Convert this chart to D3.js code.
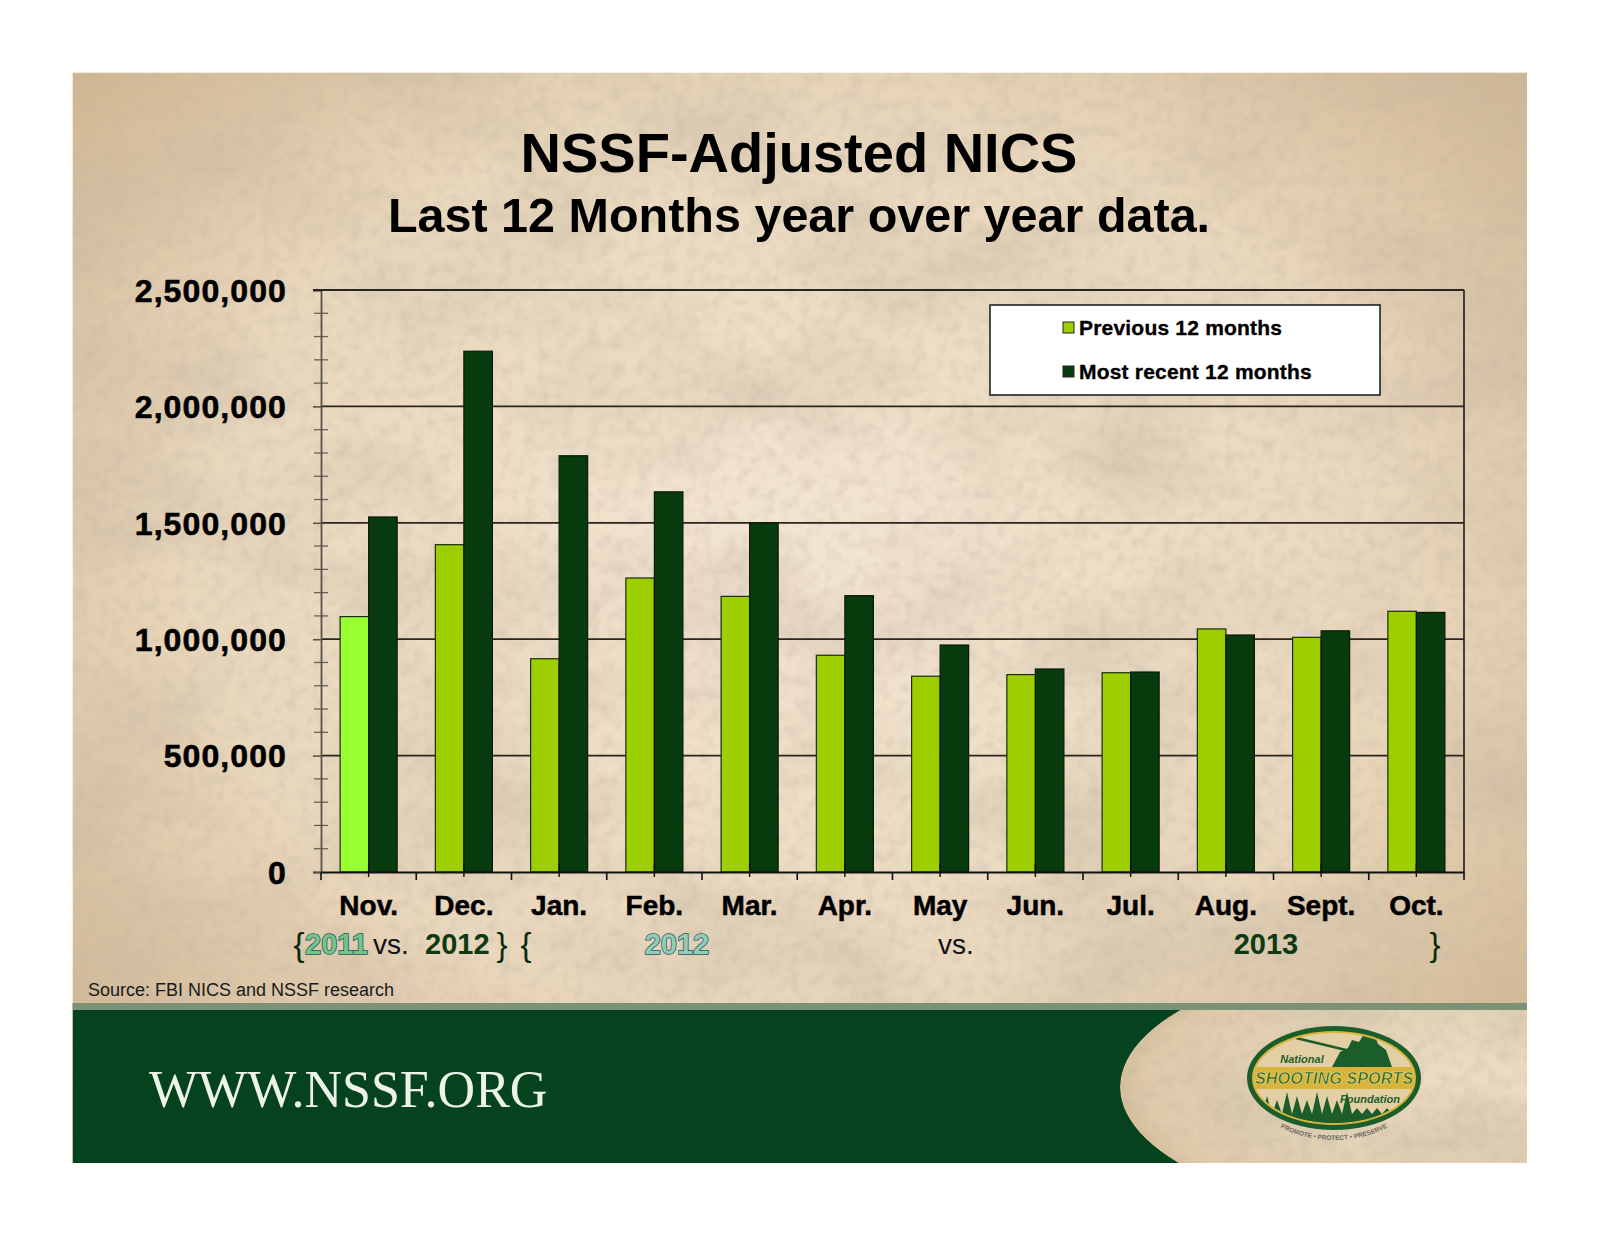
<!DOCTYPE html>
<html>
<head>
<meta charset="utf-8">
<script src="https://cdn.jsdelivr.net/npm/d3@7"></script>
<style>
  html, body { margin: 0; padding: 0; background: #ffffff; }
  svg { display: block; }
</style>
</head>
<body>
<script>
// ---------- DATA ----------
const months = ["Nov.", "Dec.", "Jan.", "Feb.", "Mar.", "Apr.", "May", "Jun.", "Jul.", "Aug.", "Sept.", "Oct."];
const previous12 = [1097000, 1406000, 916000, 1263000, 1184000, 931000, 841000, 848000, 856000, 1044000, 1008000, 1120000];
const recent12   = [1525000, 2237000, 1788000, 1633000, 1500000, 1187000, 975000, 872000, 859000, 1018000, 1036000, 1115000];
const seriesNames = ["Previous 12 months", "Most recent 12 months"];
const yTicks = [0, 500000, 1000000, 1500000, 2000000, 2500000];
const titleText = "NSSF-Adjusted NICS";
const subtitleText = "Last 12 Months year over year data.";
const sourceText = "Source: FBI NICS and NSSF research";
const footerText = "WWW.NSSF.ORG";

// ---------- SETUP ----------
const W = 1600, H = 1236;
const svg = d3.select("body").append("svg").attr("width", W).attr("height", H);
const defs = svg.append("defs");

// parchment gradient + texture
const rg = defs.append("radialGradient").attr("id", "paperGrad")
  .attr("cx", "50%").attr("cy", "45%").attr("r", "70%");
rg.append("stop").attr("offset", "0%").attr("stop-color", "#f3e6d2");
rg.append("stop").attr("offset", "60%").attr("stop-color", "#e9d7bc");
rg.append("stop").attr("offset", "100%").attr("stop-color", "#cdb28c");

const f = defs.append("filter").attr("id", "paper")
  .attr("x", 0).attr("y", 0).attr("width", "100%").attr("height", "100%");
f.append("feTurbulence").attr("type", "fractalNoise").attr("baseFrequency", "0.005 0.009")
  .attr("numOctaves", 5).attr("seed", 7).attr("result", "n1");
f.append("feColorMatrix").attr("in", "n1").attr("type", "matrix")
  .attr("values", "0 0 0 0 0.58  0 0 0 0 0.48  0 0 0 0 0.36  1.2 0 0 0 -0.5")
  .attr("result", "t1");
f.append("feTurbulence").attr("type", "fractalNoise").attr("baseFrequency", "0.08")
  .attr("numOctaves", 2).attr("seed", 2).attr("result", "n2");
f.append("feColorMatrix").attr("in", "n2").attr("type", "matrix")
  .attr("values", "0 0 0 0 0.55  0 0 0 0 0.46  0 0 0 0 0.36  0.8 0 0 0 -0.33")
  .attr("result", "t2");
f.append("feComposite").attr("in", "t1").attr("in2", "SourceGraphic").attr("operator", "over").attr("result", "c1");
f.append("feComposite").attr("in", "t2").attr("in2", "c1").attr("operator", "over").attr("result", "c2");
f.append("feComposite").attr("in", "c2").attr("in2", "SourceGraphic").attr("operator", "in");

const PX0 = 72.5, PY0 = 72.5, PX1 = 1527, PY1 = 1163;
svg.append("rect").attr("x", PX0).attr("y", PY0).attr("width", PX1 - PX0).attr("height", PY1 - PY0)
  .attr("fill", "url(#paperGrad)").attr("filter", "url(#paper)");

// ---------- TITLES ----------
svg.append("text").attr("x", 799).attr("y", 172).attr("text-anchor", "middle")
  .attr("font-family", "Liberation Sans, Arial, sans-serif").attr("font-weight", "bold")
  .attr("font-size", 56).attr("fill", "#000").text(titleText);
svg.append("text").attr("x", 799).attr("y", 232).attr("text-anchor", "middle")
  .attr("font-family", "Liberation Sans, Arial, sans-serif").attr("font-weight", "bold")
  .attr("font-size", 48.5).attr("fill", "#000").text(subtitleText);

// ---------- SCALES ----------
const L = 321, R = 1464, T = 290, B = 872;
const x0 = d3.scaleBand().domain(months).range([L, R]).paddingInner(0).paddingOuter(0);
const x1 = d3.scaleBand().domain(["prev", "recent"]).range([0, x0.bandwidth()]).paddingInner(0).paddingOuter(0.67);
const y = d3.scaleLinear().domain([0, 2500000]).range([B, T]);

// gridlines
const g = svg.append("g");
g.selectAll("line.grid").data(yTicks.filter(d => d > 0)).join("line")
  .attr("x1", L).attr("x2", R).attr("y1", d => y(d)).attr("y2", d => y(d))
  .attr("stroke", "#2a2520").attr("stroke-width", 1.7);
// right border
g.append("line").attr("x1", R).attr("x2", R).attr("y1", T).attr("y2", B)
  .attr("stroke", "#2a2520").attr("stroke-width", 1.7);

// minor y ticks (crossing)
g.selectAll("line.minor").data(d3.range(0, 2500001, 100000).filter(d => d % 500000 !== 0)).join("line")
  .attr("x1", L - 7).attr("x2", L + 7).attr("y1", d => y(d)).attr("y2", d => y(d))
  .attr("stroke", "#6a625a").attr("stroke-width", 1.3);

// bars
const colorPrev = "#9dcf00", colorPrevFirst = "#99ff33", colorRecent = "#073a0c";
const groups = g.selectAll("g.grp").data(months).join("g")
  .attr("transform", d => `translate(${x0(d)},0)`);
groups.append("rect")
  .attr("x", x1("prev")).attr("width", x1.bandwidth())
  .attr("y", (d, i) => y(previous12[i])).attr("height", (d, i) => B - y(previous12[i]))
  .attr("fill", (d, i) => i === 0 ? colorPrevFirst : colorPrev)
  .attr("stroke", "#1c2a10").attr("stroke-width", 1.2);
groups.append("rect")
  .attr("x", x1("recent")).attr("width", x1.bandwidth())
  .attr("y", (d, i) => y(recent12[i])).attr("height", (d, i) => B - y(recent12[i]))
  .attr("fill", colorRecent)
  .attr("stroke", "#0a1a08").attr("stroke-width", 1.2);

// y axis
const yAxis = svg.append("g").attr("transform", `translate(${L},0)`)
  .call(d3.axisLeft(y).tickValues(yTicks).tickFormat(d3.format(",")).tickSize(8).tickPadding(26));
yAxis.select(".domain").attr("stroke", "#5a524a").attr("stroke-width", 1.8);
yAxis.selectAll(".tick line").attr("stroke", "#5a524a").attr("stroke-width", 1.6);
yAxis.selectAll(".tick text")
  .attr("font-family", "Liberation Sans, Arial, sans-serif").attr("font-weight", "bold")
  .attr("font-size", 32).attr("letter-spacing", 1.1).attr("fill", "#000")
  .attr("stroke", "#000").attr("stroke-width", 0.6).attr("dy", "0.35em");

// top border on top of axis
svg.append("line").attr("x1", L - 8).attr("x2", R).attr("y1", T).attr("y2", T)
  .attr("stroke", "#2a2520").attr("stroke-width", 1.8);

// x axis
const xAxis = svg.append("g").attr("transform", `translate(0,${B})`)
  .call(d3.axisBottom(x0).tickSize(0).tickPadding(0).tickFormat(""));
xAxis.select(".domain").attr("stroke", "#111").attr("stroke-width", 2.2);
// boundary ticks (downward)
xAxis.selectAll("line.bnd").data(d3.range(0, months.length + 1)).join("line")
  .attr("x1", i => L + i * x0.step()).attr("x2", i => L + i * x0.step())
  .attr("y1", 0).attr("y2", 8).attr("stroke", "#111").attr("stroke-width", 1.6);
// center ticks (crossing)
xAxis.selectAll("line.ctr").data(months).join("line")
  .attr("x1", d => x0(d) + x0.bandwidth() / 2).attr("x2", d => x0(d) + x0.bandwidth() / 2)
  .attr("y1", -8).attr("y2", 5).attr("stroke", "#111").attr("stroke-width", 1.4);
// month labels
svg.selectAll("text.month").data(months).join("text")
  .attr("x", d => x0(d) + x0.bandwidth() / 2).attr("y", 915)
  .attr("text-anchor", "middle")
  .attr("font-family", "Liberation Sans, Arial, sans-serif").attr("font-weight", "bold")
  .attr("font-size", 28).attr("fill", "#000").attr("stroke", "#000").attr("stroke-width", 0.5)
  .text(d => d);

// ---------- YEAR ROW ----------
const yr = svg.append("g").attr("font-family", "Liberation Sans, Arial, sans-serif");
const yBase = 954;
function brace(xp, ch) {
  yr.append("text").attr("x", xp).attr("y", yBase + 2).attr("font-size", 33).attr("font-weight", "normal")
    .attr("fill", "#0a2a0a").attr("text-anchor", "middle").text(ch);
}
function yearText(xp, t, fill, outline, anchor) {
  const el = yr.append("text").attr("x", xp).attr("y", yBase).attr("font-size", 29).attr("font-weight", "bold")
    .attr("fill", fill).attr("text-anchor", anchor || "start").text(t);
  if (outline) el.attr("stroke", outline).attr("stroke-width", 1.4).attr("paint-order", "stroke");
  return el;
}
brace(299, "{");
yearText(305, "2011", "#74c48a", "#1d4f5c");
yr.append("text").attr("x", 373).attr("y", yBase).attr("font-size", 28).attr("fill", "#111").text("vs.");
yearText(425, "2012", "#0d3a12", null);
brace(502, "}");
brace(526, "{");
yearText(677, "2012", "#92ccb6", "#1d4f5c", "middle");
yr.append("text").attr("x", 956).attr("y", yBase).attr("font-size", 28).attr("fill", "#111")
  .attr("text-anchor", "middle").text("vs.");
yearText(1266, "2013", "#0d3a12", null, "middle");
brace(1435, "}");

// ---------- LEGEND ----------
const lg = svg.append("g");
lg.append("rect").attr("x", 990).attr("y", 305).attr("width", 390).attr("height", 90)
  .attr("fill", "#ffffff").attr("stroke", "#222").attr("stroke-width", 1.6);
const legItems = [
  { name: seriesNames[0], color: colorPrev, cy: 328 },
  { name: seriesNames[1], color: colorRecent, cy: 372 }
];
legItems.forEach(it => {
  lg.append("rect").attr("x", 1063).attr("y", it.cy - 6).attr("width", 11).attr("height", 11)
    .attr("fill", it.color).attr("stroke", "#222").attr("stroke-width", 1);
  lg.append("text").attr("x", 1079).attr("y", it.cy + 7)
    .attr("font-family", "Liberation Sans, Arial, sans-serif").attr("font-weight", "bold")
    .attr("font-size", 21).attr("fill", "#000").attr("stroke", "#000").attr("stroke-width", 0.35)
    .attr("letter-spacing", 0.2).text(it.name);
});

// ---------- SOURCE ----------
svg.append("text").attr("x", 88).attr("y", 996)
  .attr("font-family", "Liberation Sans, Arial, sans-serif").attr("font-size", 18)
  .attr("fill", "#1a1a1a").text(sourceText);

// ---------- FOOTER ----------
const FY0 = 1010;
svg.append("rect").attr("x", PX0).attr("y", 1003).attr("width", PX1 - PX0).attr("height", 7)
  .attr("fill", "#7c9276");
defs.append("clipPath").attr("id", "footClip").append("rect")
  .attr("x", PX0).attr("y", FY0).attr("width", PX1 - PX0).attr("height", PY1 - FY0);
const foot = svg.append("g").attr("clip-path", "url(#footClip)");
foot.append("rect").attr("x", PX0).attr("y", FY0).attr("width", PX1 - PX0).attr("height", PY1 - FY0)
  .attr("fill", "#05431f");
const eg = defs.append("radialGradient").attr("id", "ellGrad").attr("cx", "55%").attr("cy", "50%").attr("r", "60%");
eg.append("stop").attr("offset", "0%").attr("stop-color", "#ecdec6");
eg.append("stop").attr("offset", "85%").attr("stop-color", "#dfcbab");
eg.append("stop").attr("offset", "100%").attr("stop-color", "#c8ae88");
foot.append("ellipse").attr("cx", 1462).attr("cy", 1087).attr("rx", 342).attr("ry", 136)
  .attr("fill", "url(#ellGrad)").attr("filter", "url(#paper)");

svg.append("text").attr("x", 149).attr("y", 1107)
  .attr("font-family", "Liberation Serif, DejaVu Serif, serif").attr("font-size", 52)
  .attr("fill", "#eef3ea").attr("letter-spacing", 0).text(footerText);

// ---------- LOGO ----------
const LX = 1334, LY = 1078, LRX = 87, LRY = 52;
const logo = svg.append("g");
const green = "#1b5e2b", gold = "#d9b43a";
defs.append("clipPath").attr("id", "logoClip").append("ellipse")
  .attr("cx", LX).attr("cy", LY).attr("rx", LRX - 7).attr("ry", LRY - 7);
logo.append("ellipse").attr("cx", LX).attr("cy", LY).attr("rx", LRX).attr("ry", LRY).attr("fill", green);
logo.append("ellipse").attr("cx", LX).attr("cy", LY).attr("rx", LRX - 5).attr("ry", LRY - 5).attr("fill", gold);
const inner = logo.append("g").attr("clip-path", "url(#logoClip)");
inner.append("rect").attr("x", LX - LRX).attr("y", LY - LRY).attr("width", 2 * LRX).attr("height", 2 * LRY).attr("fill", "#e2cfa4");
// hunters silhouette
inner.append("path").attr("fill", green)
  .attr("d", `M${LX - 2},${LY - 11} L${LX + 6},${LY - 26} L${LX + 14},${LY - 30} L${LX + 18},${LY - 38} L${LX + 25},${LY - 36} L${LX + 30},${LY - 44} L${LX + 40},${LY - 44} L${LX + 44},${LY - 34} L${LX + 52},${LY - 28} L${LX + 58},${LY - 11} Z`);
inner.append("line").attr("x1", LX - 38).attr("y1", LY - 40).attr("x2", LX + 12).attr("y2", LY - 28)
  .attr("stroke", green).attr("stroke-width", 2.5);
// band
inner.append("rect").attr("x", LX - LRX).attr("y", LY - 11).attr("width", 2 * LRX).attr("height", 22).attr("fill", gold);
// trees
const treeXs = d3.range(LX - 82, LX + 82, 10);
inner.append("path").attr("fill", green)
  .attr("d", "M" + (LX - LRX) + "," + (LY + LRY) + " " +
    treeXs.map((tx, i) => {
      const tip = (tx > LX + 10 && tx < LX + 70) ? LY + 30 : LY + 14 + (i % 3) * 4;
      return `L${tx},${LY + 36} L${tx + 5},${tip} L${tx + 10},${LY + 36}`;
    }).join(" ") +
    ` L${LX + LRX},${LY + LRY} Z`);
inner.append("rect").attr("x", LX - LRX).attr("y", LY + 36).attr("width", 2 * LRX).attr("height", 30).attr("fill", green);
logo.append("text").attr("x", LX - 32).attr("y", LY - 15).attr("text-anchor", "middle")
  .attr("font-family", "Liberation Sans, Arial, sans-serif").attr("font-weight", "bold").attr("font-style", "italic")
  .attr("font-size", 11).attr("fill", green).text("National");
logo.append("text").attr("x", LX).attr("y", LY + 6).attr("text-anchor", "middle")
  .attr("font-family", "Liberation Sans, Arial, sans-serif").attr("font-weight", "bold").attr("font-style", "italic")
  .attr("font-size", 16.5).attr("fill", green).attr("stroke", "#f3e08a").attr("stroke-width", 0.6)
  .attr("textLength", 158).attr("lengthAdjust", "spacingAndGlyphs").text("SHOOTING SPORTS");
logo.append("text").attr("x", LX + 36).attr("y", LY + 25).attr("text-anchor", "middle")
  .attr("font-family", "Liberation Sans, Arial, sans-serif").attr("font-style", "italic").attr("font-weight", "bold")
  .attr("font-size", 11).attr("fill", green).text("Foundation");
defs.append("path").attr("id", "arcPath")
  .attr("d", `M${LX - LRX + 4},${LY + 8} A${LRX - 4},${LRY + 2} 0 0 0 ${LX + LRX - 4},${LY + 8}`);
logo.append("text").attr("font-family", "Liberation Sans, Arial, sans-serif").attr("font-size", 6.5)
  .attr("font-weight", "bold").attr("fill", "#6b6b60")
  .append("textPath").attr("href", "#arcPath").attr("startOffset", "50%").attr("text-anchor", "middle")
  .text("PROMOTE  •  PROTECT  •  PRESERVE");
</script>
</body>
</html>
